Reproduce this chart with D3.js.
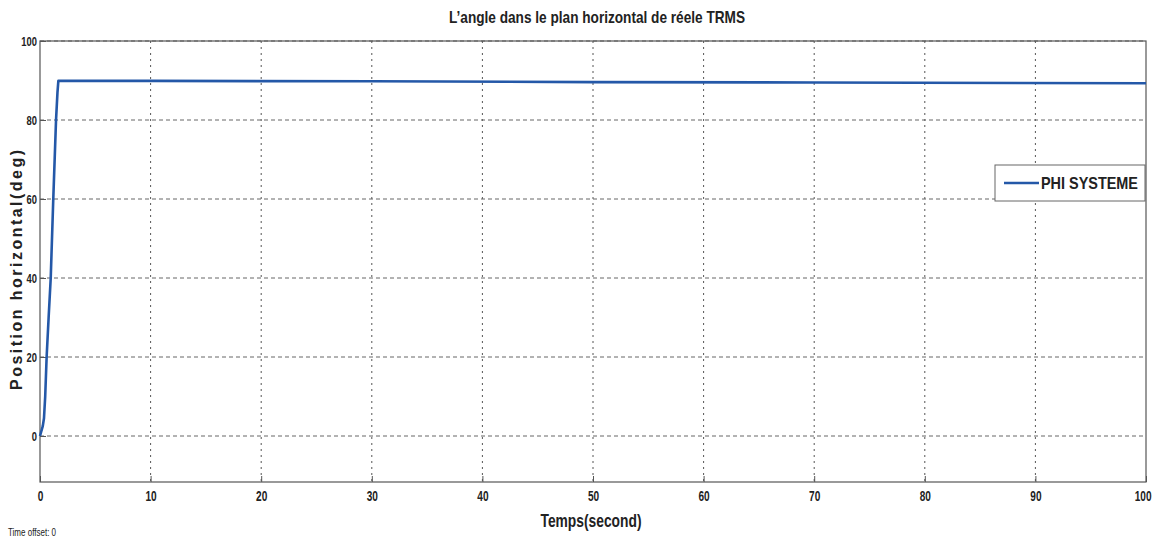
<!DOCTYPE html>
<html>
<head>
<meta charset="utf-8">
<script src="https://cdn.jsdelivr.net/npm/d3@7"></script>
<style>
  html, body { margin: 0; padding: 0; background: #fff; }
  svg { display: block; }
  text { font-family: "Liberation Sans Narrow", "Arial Narrow", "Liberation Sans", sans-serif; }
</style>
</head>
<body>
<svg id="chart" width="1154" height="540"></svg>
<script>
// ---- data ----
const timeSec = [0, 0.12, 0.25, 0.36, 0.47, 0.6, 0.78, 0.97, 1.2, 1.45, 1.58, 1.66, 10, 30, 50, 70, 100];
const phiDeg  = [0, 1.2, 2.5, 4.5, 10, 20, 30, 40, 60, 80, 87, 89.9, 89.9, 89.8, 89.6, 89.5, 89.3];
const xTicks = [0, 10, 20, 30, 40, 50, 60, 70, 80, 90, 100];
const yTicks = [0, 20, 40, 60, 80, 100];
const seriesName = "PHI SYSTEME";
const titleText = "L\u2019angle dans le plan horizontal de réele TRMS";
const xLabelText = "Temps(second)";
const yLabelText = "Position horizontal(deg)";
const offsetText = "Time offset:  0";

// ---- layout ----
const svg = d3.select("#chart");
const L = 40, R = 1146, T = 41, B = 482;
const x = d3.scaleLinear().domain([0, 100]).range([L, R]);
const y = d3.scaleLinear().domain([0, 100]).range([436, 41]);

function condense(sel, f) {
  sel.each(function () {
    const w = this.getComputedTextLength();
    d3.select(this).attr("textLength", w * f).attr("lengthAdjust", "spacingAndGlyphs");
  });
}

const g = svg.append("g");

// grid
g.append("g").selectAll("line").data(xTicks.slice(1, -1)).join("line")
  .attr("x1", d => x(d)).attr("x2", d => x(d)).attr("y1", T).attr("y2", B)
  .attr("stroke", "#555").attr("stroke-width", 1).attr("stroke-dasharray", "2,4");
g.append("g").selectAll("line").data(yTicks).join("line")
  .attr("x1", L).attr("x2", R).attr("y1", d => y(d)).attr("y2", d => y(d))
  .attr("stroke", "#666").attr("stroke-width", 1).attr("stroke-dasharray", "4,3");

// frame
g.append("rect").attr("x", L).attr("y", T).attr("width", R - L).attr("height", B - T)
  .attr("fill", "none").attr("stroke", "#555").attr("stroke-width", 1.2);

// axes (ticks inward)
const xAxis = d3.axisBottom(x).tickValues(xTicks).tickSize(-6).tickPadding(9).tickFormat(d3.format("d"));
const gx = g.append("g").attr("transform", `translate(0,${B})`).call(xAxis);
gx.select(".domain").remove();
gx.selectAll("line").attr("stroke", "#555");
gx.selectAll("text").attr("font-size", 14).attr("font-weight", "bold").attr("fill", "#222");
condense(gx.selectAll(".tick").filter(d => d !== 100).select("text"), 0.72);
gx.selectAll(".tick").filter(d => d === 100).select("text")
  .attr("text-anchor", "end").attr("x", 0)
  .attr("transform", "translate(5,0) scale(0.72,1)");

const yAxis = d3.axisLeft(y).tickValues(yTicks).tickSize(-6).tickPadding(3).tickFormat(d3.format("d"));
const gy = g.append("g").attr("transform", `translate(${L},0)`).call(yAxis);
gy.select(".domain").remove();
gy.selectAll("line").attr("stroke", "#555");
gy.selectAll("text").attr("font-size", 13).attr("font-weight", "bold").attr("fill", "#222");
condense(gy.selectAll("text"), 0.72);

// line
const pts = timeSec.map((t, i) => [t, phiDeg[i]]);
g.append("path").datum(pts)
  .attr("d", d3.line().x(d => x(d[0])).y(d => y(d[1])))
  .attr("fill", "none").attr("stroke", "#2458a8").attr("stroke-width", 2.6)
  .attr("stroke-linejoin", "round");

// legend
const lg = g.append("g").attr("transform", "translate(995,165)");
lg.append("rect").attr("width", 150).attr("height", 36).attr("fill", "#fff")
  .attr("stroke", "#666").attr("stroke-width", 1);
lg.append("line").attr("x1", 9).attr("x2", 44).attr("y1", 18).attr("y2", 18)
  .attr("stroke", "#2458a8").attr("stroke-width", 2.6);
lg.append("text").attr("x", 46).attr("y", 24).attr("font-size", 17).attr("font-weight", "bold")
  .attr("fill", "#222").attr("textLength", 97).attr("lengthAdjust", "spacingAndGlyphs").text(seriesName);

// title & labels
svg.append("text").attr("x", 597).attr("y", 23).attr("text-anchor", "middle")
  .attr("font-size", 17).attr("font-weight", "bold").attr("fill", "#222")
  .attr("textLength", 296).attr("lengthAdjust", "spacingAndGlyphs").text(titleText);
svg.append("text").attr("x", 591).attr("y", 527).attr("text-anchor", "middle")
  .attr("font-size", 19).attr("font-weight", "bold").attr("fill", "#222")
  .attr("textLength", 101).attr("lengthAdjust", "spacingAndGlyphs").text(xLabelText);
svg.append("text").attr("transform", "translate(22,270) rotate(-90)").attr("text-anchor", "middle")
  .attr("font-size", 16).attr("font-weight", "bold")
  .attr("textLength", 240).attr("lengthAdjust", "spacing")
  .attr("fill", "#222").text(yLabelText);
const off = svg.append("text").attr("x", 8).attr("y", 536).attr("font-size", 10).attr("fill", "#222").text(offsetText);
condense(off, 0.8);
</script>
</body>
</html>
